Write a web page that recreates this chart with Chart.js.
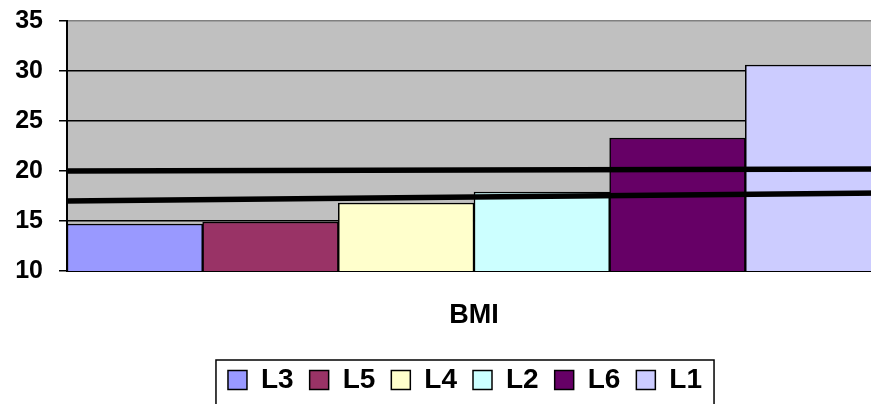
<!DOCTYPE html>
<html>
<head>
<meta charset="utf-8">
<script src="https://cdn.jsdelivr.net/npm/chart.js@4/dist/chart.umd.min.js"></script>
<style>
  html, body { margin: 0; padding: 0; background: #fff; overflow: hidden; }
  #wrap { width: 882px; height: 404px; }
</style>
</head>
<body>
<div id="wrap"><canvas id="c"></canvas></div>
<script>
// BMI by group
const categories = ['BMI'];
const seriesNames = ['L3', 'L5', 'L4', 'L2', 'L6', 'L1'];
const seriesValues = [14.7, 14.9, 16.8, 17.9, 23.3, 30.6];
const seriesColors = ['#9999FF', '#993366', '#FFFFCC', '#CCFFFF', '#660066', '#CCCCFF'];

// Reference lines running across the whole group (value at left edge, value at right edge)
const upperLine = [20.0, 20.2];
const lowerLine = [17.0, 17.8];

const yTicks = [10, 15, 20, 25, 30, 35];

// The category axis is numeric: category i sits at i, its band spans i-0.5 .. i+0.5
const bandStart = -0.5;
const bandEnd = categories.length - 0.5;

Chart.defaults.font.family = '"Liberation Sans", Arial, sans-serif';
Chart.defaults.font.weight = 'bold';
Chart.defaults.color = '#000';

const barSets = seriesNames.map((name, i) => ({
  type: 'bar',
  label: name,
  data: categories.map((c, ci) => ({ x: ci, y: seriesValues[i] })),
  backgroundColor: seriesColors[i],
  borderColor: '#000',
  borderWidth: 1.5,
  borderSkipped: false,
  categoryPercentage: 1,
  barPercentage: 1,
  order: 1
}));

const lineSet = (vals) => ({
  type: 'line',
  label: '',
  data: [{ x: bandStart, y: vals[0] }, { x: bandEnd, y: vals[1] }],
  borderColor: '#000',
  borderWidth: 5.5,
  pointRadius: 0,
  fill: false,
  clip: 4,
  order: 0
});

const plotBackground = {
  id: 'plotBackground',
  beforeDraw(chart) {
    const { ctx, chartArea: a } = chart;
    ctx.save();
    ctx.fillStyle = '#C0C0C0';
    ctx.fillRect(a.left, a.top, a.right - a.left, a.bottom - a.top);
    ctx.restore();
  }
};

// Legend sits slightly left of the plot centre, inside a black frame
const legendFrame = {
  id: 'legendFrame',
  afterLayout(chart) {
    chart.legend.left -= 9;
    chart.legend.right -= 9;
  },
  afterDraw(chart) {
    const boxes = chart.legend.legendHitBoxes;
    if (!boxes || !boxes.length) return;
    const left = Math.min(...boxes.map(b => b.left)) - 12;
    const right = Math.max(...boxes.map(b => b.left + b.width)) + 12;
    const top = Math.min(...boxes.map(b => b.top)) - 6;
    const { ctx } = chart;
    ctx.save();
    ctx.strokeStyle = '#000';
    ctx.lineWidth = 1.5;
    ctx.strokeRect(left, top, right - left, chart.height + 10 - top);
    ctx.restore();
  }
};

new Chart(document.getElementById('c'), {
  data: {
    datasets: [...barSets, lineSet(upperLine), lineSet(lowerLine)]
  },
  options: {
    responsive: true,
    maintainAspectRatio: false,
    animation: false,
    layout: { padding: { top: 21, right: 1, left: 0, bottom: 0 } },
    plugins: {
      tooltip: { enabled: false },
      legend: {
        position: 'bottom',
        fullSize: false,
        labels: {
          filter: (item) => item.text !== '',
          boxWidth: 19,
          boxHeight: 19,
          padding: 16,
          font: { size: 28, weight: 'bold' },
          color: '#000',
          generateLabels(chart) {
            return Chart.defaults.plugins.legend.labels.generateLabels(chart).map(l => {
              l.lineWidth = 1.5;
              l.strokeStyle = '#000';
              return l;
            });
          }
        }
      }
    },
    scales: {
      x: {
        type: 'linear',
        offset: false,
        min: bandStart,
        max: bandEnd,
        afterBuildTicks(s) { s.ticks = categories.map((c, i) => ({ value: i })); },
        grid: { display: false, drawTicks: false },
        border: { display: true, color: '#000', width: 2 },
        ticks: {
          padding: 28,
          font: { size: 27, weight: 'bold' },
          color: '#000',
          callback: (v) => categories[v]
        },
        afterFit(s) { s.height = 79; }
      },
      y: {
        min: 10,
        max: 35,
        afterBuildTicks(s) { s.ticks = yTicks.map(v => ({ value: v })); },
        grid: {
          color: (c) => (c.tick && c.tick.value === 35 ? '#808080' : '#000'),
          lineWidth: 1.5,
          tickLength: 8,
          tickColor: '#000'
        },
        border: { display: true, color: '#000', width: 2 },
        ticks: { padding: 16, font: { size: 25, weight: 'bold' }, color: '#000' },
        afterFit(s) { s.width = 67; s.paddingTop = 0; }
      }
    }
  },
  plugins: [plotBackground, legendFrame]
});
</script>
</body>
</html>
